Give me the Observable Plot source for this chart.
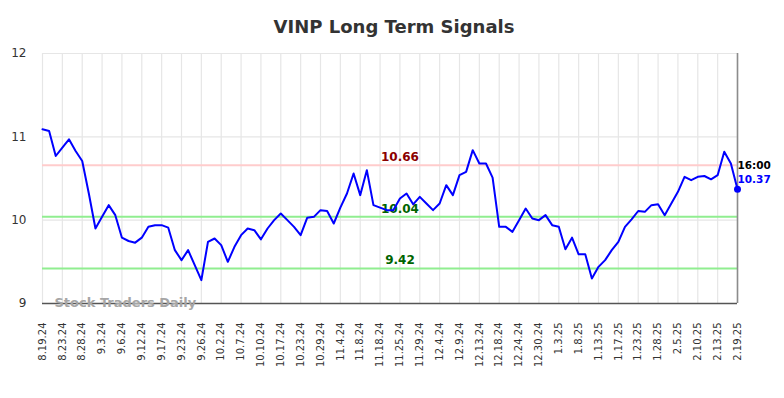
<!DOCTYPE html>
<html>
<head>
<meta charset="utf-8">
<script src="https://cdn.jsdelivr.net/npm/d3@7"></script>
<script src="https://cdn.jsdelivr.net/npm/@observablehq/plot@0.6"></script>
<style>
  html, body { margin: 0; padding: 0; background: #fff; }
  body { width: 784px; height: 398px; overflow: hidden; font-family: "DejaVu Sans", sans-serif; }
  #title { height: 40px; box-sizing: border-box; padding-top: 18px; line-height: 18px; font-size: 18px; font-weight: bold; color: #333; text-align: center; padding-left: 4px; }
  svg { display: block; }
</style>
</head>
<body>
<div id="title">VINP Long Term Signals</div>
<div id="chart"></div>
<script>
const tickLabels = ["8.19.24","8.23.24","8.28.24","9.3.24","9.6.24","9.12.24","9.17.24","9.23.24","9.26.24","10.2.24","10.7.24","10.10.24","10.17.24","10.23.24","10.29.24","11.4.24","11.8.24","11.18.24","11.25.24","11.29.24","12.4.24","12.9.24","12.13.24","12.18.24","12.24.24","12.30.24","1.3.25","1.8.25","1.13.25","1.17.25","1.23.25","1.28.25","2.5.25","2.10.25","2.13.25","2.19.25"];
const pointsPerTick = 3;
const prices = [11.09,11.07,10.77,10.87,10.97,10.83,10.71,10.32,9.90,10.04,
  10.18,10.06,9.79,9.75,9.73,9.79,9.92,9.94,9.94,9.91,
  9.64,9.52,9.64,9.46,9.28,9.74,9.78,9.70,9.50,9.68,
  9.82,9.90,9.88,9.77,9.90,10.00,10.08,10.00,9.92,9.82,
  10.03,10.04,10.12,10.11,9.96,10.15,10.32,10.56,10.30,10.60,
  10.18,10.15,10.12,10.12,10.26,10.32,10.19,10.28,10.20,10.12,
  10.20,10.42,10.30,10.54,10.58,10.84,10.68,10.68,10.51,9.92,
  9.92,9.86,10.00,10.14,10.02,10.00,10.06,9.94,9.92,9.65,
  9.79,9.59,9.59,9.30,9.44,9.52,9.64,9.74,9.92,10.01,
  10.11,10.10,10.18,10.19,10.06,10.20,10.34,10.52,10.48,10.52,
  10.53,10.49,10.54,10.82,10.68,10.37];
const resistance = [10.66];
const supports = [10.04, 9.42];
const yTicks = [9, 10, 11, 12];
const lastTime = "16:00";

const data = prices.map((v, i) => ({i, v}));
const lastIdx = prices.length - 1;
const last = data[lastIdx];
const tickIdx = tickLabels.map((_, k) => k * pointsPerTick);
const labelX = 54;
const font = "DejaVu Sans";

const chart = Plot.plot({
  width: 784,
  height: 358,
  marginLeft: 42,
  marginRight: 47,
  marginTop: 13,
  marginBottom: 95,
  style: {fontFamily: font, background: "#fff", overflow: "visible"},
  x: {domain: [0, lastIdx], label: null},
  y: {domain: [9, 12], label: null},
  marks: [
    Plot.gridX(tickIdx, {stroke: "#e6e6e6", strokeOpacity: 1, strokeWidth: 1.2}),
    Plot.gridY(yTicks, {stroke: "#e6e6e6", strokeOpacity: 1, strokeWidth: 1.2}),
    Plot.ruleY(resistance, {stroke: "#ffcccc", strokeWidth: 2}),
    Plot.ruleY(supports, {stroke: "#90ee90", strokeWidth: 2}),
    Plot.ruleX([lastIdx], {stroke: "#8c8c8c", strokeWidth: 1.6}),
    Plot.ruleY([9], {stroke: "#555", strokeWidth: 1.6}),
    Plot.axisY({ticks: yTicks, label: null, tickSize: 0, tickPadding: 16, fontSize: 12, fill: "#333", tickFormat: d => String(d)}),
    Plot.axisX({ticks: tickIdx, label: null, tickSize: 0, tickPadding: 19, tickRotate: -90, fontSize: 10, fill: "#333",
      tickFormat: d => tickLabels[Math.round(d / pointsPerTick)]}),
    Plot.text(resistance, {x: labelX, y: d => d, text: d => d.toFixed(2), fill: "#8b0000", fontWeight: "bold", fontSize: 12, dy: -8}),
    Plot.text(supports, {x: labelX, y: d => d, text: d => d.toFixed(2), fill: "#006400", fontWeight: "bold", fontSize: 12, dy: -8}),
    Plot.text(["Stock Traders Daily"], {frameAnchor: "bottom-left", dx: 12, dy: -1, lineAnchor: "middle", textAnchor: "start", fill: "#a6a6a6", fontWeight: "bold", fontSize: 13}),
    Plot.line(data, {x: "i", y: "v", stroke: "#0000ff", strokeWidth: 2}),
    Plot.dot([last], {x: "i", y: "v", r: 3.5, fill: "#0000ff", stroke: "none"}),
    Plot.text([last], {x: "i", y: "v", text: () => lastTime, textAnchor: "start", dy: -24, fill: "#000", fontWeight: "bold", fontSize: 10.5}),
    Plot.text([last], {x: "i", y: "v", text: d => d.v.toFixed(2), textAnchor: "start", dy: -10, fill: "#0000ff", fontWeight: "bold", fontSize: 10.5})
  ]
});
document.getElementById("chart").appendChild(chart);
</script>
</body>
</html>
